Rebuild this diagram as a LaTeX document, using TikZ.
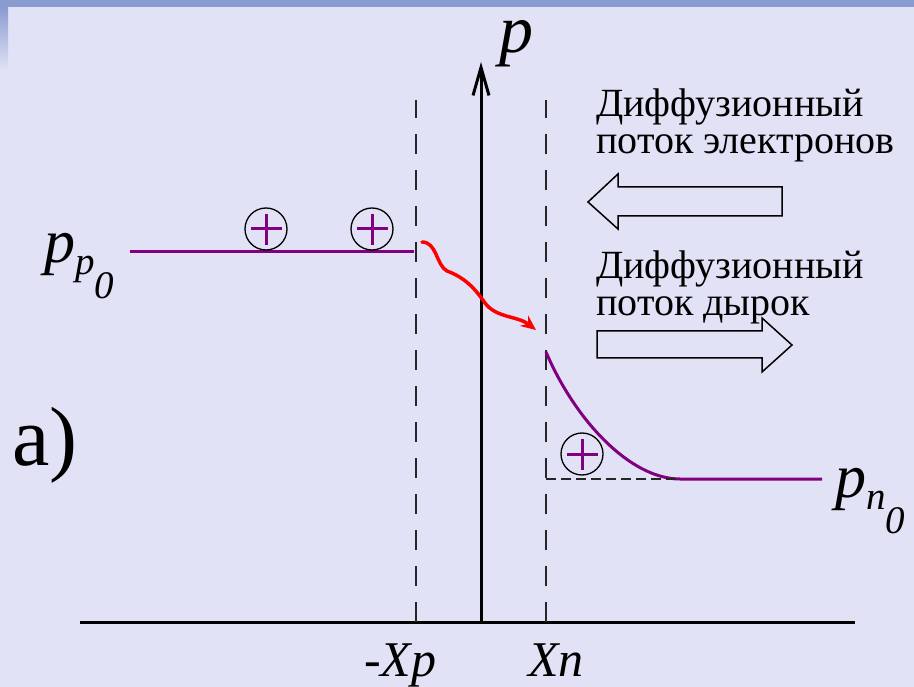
\documentclass[tikz,border=0pt]{standalone}
\usepackage{fontspec}
\setmainfont{Liberation Serif}
\usepackage{tikz}
\usetikzlibrary{arrows.meta,positioning,calc}
\usepackage{xcolor}
\definecolor{slidebg}{RGB}{225,226,245}
\definecolor{slidebar}{RGB}{137,156,208}
\definecolor{holepurple}{RGB}{128,0,128}
\definecolor{flowred}{RGB}{255,0,0}
% concentration label p_{x_0}
\newcommand{\pconc}[1]{\textit{p}\raisebox{-12pt}{\fontsize{39}{39}\selectfont\textit{#1}\raisebox{-24pt}{\textit{0}}}}

\begin{document}
\begin{tikzpicture}[x=1pt,y=-1pt,>=Stealth,
    axisline/.style={line width=3pt},
    guide/.style={line width=1.6pt,black!85,dash pattern=on 20pt off 16pt},
    conc/.style={holepurple,line width=3pt},
    hole/.style={circle,draw=black,line width=1.3pt,minimum size=42pt,inner sep=0pt},
    plusbar/.style={holepurple,line width=3pt},
    flowarrow/.style={draw=black,line width=1.5pt,line join=miter},
    flowtext/.style={anchor=north west,inner sep=0pt,align=left,font=\fontsize{40}{37}\selectfont}]
    % slide background
    \useasboundingbox (0,0) rectangle (914,687);
    \fill[slidebg] (0,0) rectangle (914,687);
    \fill[slidebar] (0,0) rectangle (914,7);
    \shade[top color=slidebar,bottom color=slidebg] (0,7) rectangle (8,70);

    % axes
    \coordinate (xleft) at (80,622);
    \coordinate (xright) at (855,622);
    \coordinate (origin) at (481,622);
    \coordinate (ptop) at (481,62);
    \draw[axisline] (xleft) -- (xright);
    \draw[axisline,-{Straight Barb[length=28pt,width=16pt]}] (origin) -- (ptop);
    \node[anchor=base west,inner sep=0pt,font=\fontsize{68}{68}\selectfont\itshape] (plabel) at (499,53) {p};

    % junction borders
    \draw[guide] (416,622) -- (416,100);
    \draw[guide] (546,622) -- (546,100);
    \node[anchor=base west,inner sep=0pt,font=\fontsize{50}{50}\selectfont\itshape] (xp) at (364,676) {-Xp};
    \node[anchor=base west,inner sep=0pt,font=\fontsize{50}{50}\selectfont\itshape] (xn) at (528,676) {Xn};

    % hole concentration
    \draw[conc] (130,252) -- (414,252);
    \draw[conc] (546,352) .. controls (575,420) and (630,479) .. (680,479) -- (822,479);
    \draw[line width=1.5pt,black!85,dash pattern=on 10pt off 5pt] (546,479) -- (680,479);
    \node[anchor=base west,inner sep=0pt,font=\fontsize{62}{62}\selectfont] (pp0) at (44,263) {\pconc{p}};
    \node[anchor=base west,inner sep=0pt,font=\fontsize{62}{62}\selectfont] (pn0) at (835,497) {\pconc{n}};

    \foreach \hx/\hy [count=\i] in {266/229,372/229,582/454} {
        \node[hole] (hole\i) at (\hx,\hy) {};
        \draw[plusbar] (hole\i.center) ++(-15,0) -- ++(31,0);
        \draw[plusbar] (hole\i.center) ++(0,-15) -- ++(0,31);
    }

    % hole crossing the junction
    \coordinate (wavestart) at (422,242);
    \coordinate (waveend) at (536,330);
    \draw[flowred,line width=3.5pt,line cap=round,-{Stealth[length=15pt,width=13pt]}]
        (wavestart) .. controls (437,242) and (436,265) .. (447,271)
        .. controls (466,278) and (476,290) .. (485,303)
        .. controls (496,318) and (518,316) .. (waveend);

    % diffusion flows
    \node[flowtext] (eflow) at (596,89) {Диффузионный\\поток электронов};
    \draw[flowarrow] (782,187) -- (618,187) -- (618,174) -- (588,202) -- (618,229) -- (618,216) -- (782,216) -- cycle;
    \node[flowtext] (hflow) at (596,251) {Диффузионный\\поток дырок};
    \draw[flowarrow] (597,331) -- (762,331) -- (762,318) -- (792,345) -- (762,372) -- (762,358) -- (597,358) -- cycle;

    \node[anchor=base west,inner sep=0pt,font=\fontsize{84}{84}\selectfont] (casea) at (12,465) {a)};
\end{tikzpicture}
\end{document}
